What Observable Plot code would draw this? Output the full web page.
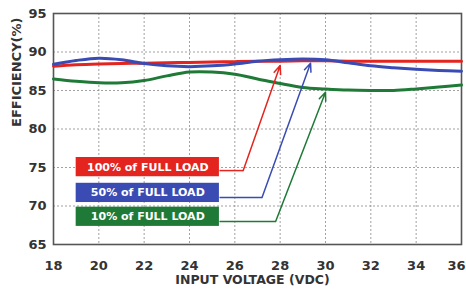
<!DOCTYPE html>
<html>
<head>
<meta charset="utf-8">
<script src="https://cdn.jsdelivr.net/npm/d3@7"></script>
<script src="https://cdn.jsdelivr.net/npm/@observablehq/plot@0.6"></script>
<style>
  html, body { margin: 0; padding: 0; background: #fff; }
  svg text { font-family: "DejaVu Sans", sans-serif; }
</style>
</head>
<body>
<div id="chart"></div>
<script>
// ---- data ----
const seriesNames = ["100% of FULL LOAD", "50% of FULL LOAD", "10% of FULL LOAD"];
const voltage = [18, 19, 20, 21, 22, 23, 24, 25, 26, 27, 28, 29, 30, 31, 32, 33, 34, 35, 36];
const eff100 = [88.15, 88.35, 88.45, 88.5, 88.55, 88.6, 88.65, 88.7, 88.75, 88.8, 88.8, 88.85, 88.85, 88.8, 88.8, 88.8, 88.8, 88.8, 88.8];
const eff50  = [88.4, 88.9, 89.2, 89.0, 88.5, 88.2, 88.1, 88.2, 88.45, 88.8, 89.0, 89.1, 89.0, 88.6, 88.2, 87.95, 87.75, 87.6, 87.5];
const eff10  = [86.5, 86.2, 86.0, 86.0, 86.3, 86.9, 87.4, 87.4, 87.1, 86.5, 85.9, 85.4, 85.2, 85.05, 85.0, 85.0, 85.2, 85.45, 85.7];
const xTicks = [18, 20, 22, 24, 26, 28, 30, 32, 34, 36];
const yTicks = [65, 70, 75, 80, 85, 90, 95];
const colors = ["#e4241f", "#3a4cb4", "#1f7a37"];

// annotation anchors (data units)
const boxX = [19.0, 25.32];
const boxY = [[73.8, 76.3], [70.45, 72.95], [67.35, 69.85]];
const leaderY = [74.6, 71.1, 68.0];
const elbowX = [26.37, 27.2, 27.8];
const tipX = [28.0, 29.34, 30.0];
const tipY = [88.25, 88.55, 84.78];

const seriesValues = [eff100, eff50, eff10];
const rows = seriesNames.flatMap((s, i) => voltage.map((v, j) => ({series: s, x: v, y: seriesValues[i][j]})));
const boxes = seriesNames.map((s, i) => ({series: s, x1: boxX[0], x2: boxX[1], y1: boxY[i][0], y2: boxY[i][1]}));
const leaders = seriesNames.map((s, i) => ({series: s, x1: boxX[1], x2: elbowX[i], y1: leaderY[i], y2: leaderY[i]}));
const arrows = seriesNames.map((s, i) => ({series: s, x1: elbowX[i], y1: leaderY[i], x2: tipX[i], y2: tipY[i]}));

const colorScale = {domain: seriesNames, range: colors};
const innerTicks = xTicks.slice(0, -1);
const lastTick = xTicks.slice(-1);

const chart = Plot.plot({
  width: 466,
  height: 293,
  marginLeft: 53,
  marginRight: 5,
  marginTop: 13,
  marginBottom: 49,
  style: {background: "#fff", fontFamily: "DejaVu Sans, sans-serif"},
  x: {domain: [18, 36]},
  y: {domain: [65, 95]},
  color: colorScale,
  marks: [
    Plot.gridX(xTicks, {stroke: "#8a8a8a", strokeOpacity: 0.8, strokeDasharray: "2,2"}),
    Plot.gridY(yTicks, {stroke: "#8a8a8a", strokeOpacity: 0.8, strokeDasharray: "2,2"}),
    Plot.frame({stroke: "#555", strokeWidth: 1.6}),
    Plot.axisX(innerTicks, {tickSize: 0, tickPadding: 16, label: null, fontSize: 13, fontWeight: "bold", fill: "#333"}),
    Plot.axisX(lastTick, {tickSize: 0, tickPadding: 16, label: null, fontSize: 13, fontWeight: "bold", fill: "#333", textAnchor: "end", dx: 4}),
    Plot.axisY(yTicks, {tickSize: 0, tickPadding: 7, label: null, fontSize: 13, fontWeight: "bold", fill: "#333"}),
    Plot.line(rows, {x: "x", y: "y", z: "series", stroke: "series", strokeWidth: 3, curve: "catmull-rom"}),
    Plot.rect(boxes, {x1: "x1", x2: "x2", y1: "y1", y2: "y2", fill: "series"}),
    Plot.text(boxes, {x: d => (d.x1 + d.x2) / 2, y: d => (d.y1 + d.y2) / 2, text: "series", fill: "#fff", fontSize: 11, fontWeight: "bold"}),
    Plot.link(leaders, {x1: "x1", x2: "x2", y1: "y1", y2: "y2", stroke: "series", strokeWidth: 1.5}),
    Plot.arrow(arrows, {x1: "x1", y1: "y1", x2: "x2", y2: "y2", stroke: "series", strokeWidth: 1.5, headLength: 9, headAngle: 45}),
    Plot.text(["INPUT VOLTAGE (VDC)"], {frameAnchor: "bottom", text: d => d, dy: 39.5, dx: -5, fontSize: 12.5, fontWeight: "bold", fill: "#333"}),
    Plot.text(["EFFICIENCY(%)"], {frameAnchor: "left", text: d => d, rotate: -90, dx: -37, dy: -2, fontSize: 13, fontWeight: "bold", fill: "#333"})
  ]
});
document.getElementById("chart").appendChild(chart);
</script>
</body>
</html>
